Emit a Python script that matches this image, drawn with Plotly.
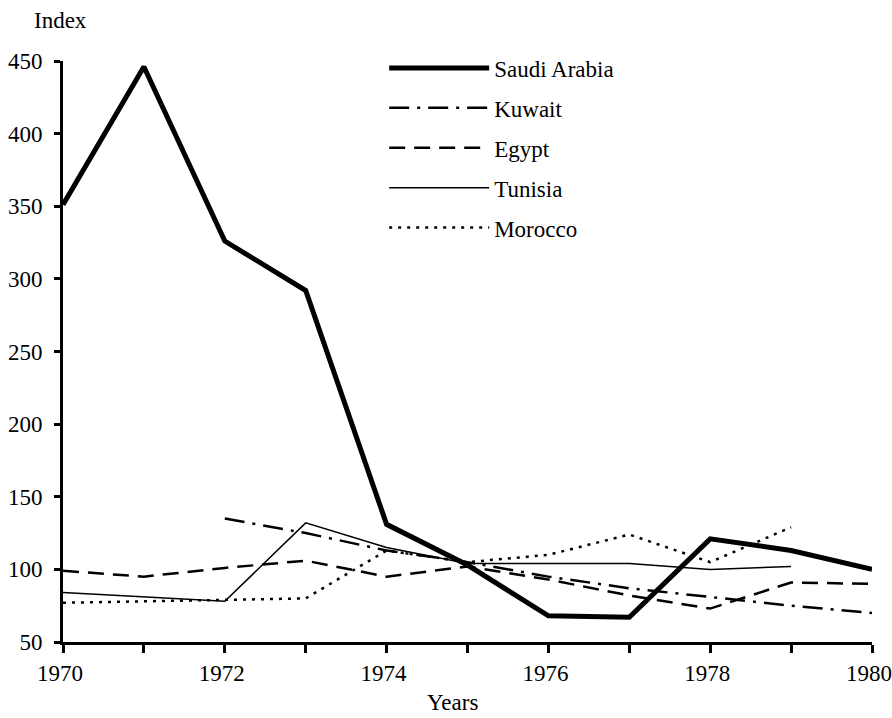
import plotly.graph_objects as go

years = list(range(1970, 1981))
saudi = [351, 446, 326, 292, 131, 103, 68, 67, 121, 113, 100]
kuwait_years = list(range(1972, 1981))
kuwait = [135, 125, 113, 105, 95, 87, 81, 75, 70]
egypt = [99, 95, 101, 106, 95, 102, 93, 82, 73, 91, 90]
tunisia_years = list(range(1970, 1980))
tunisia = [84, 81, 78, 132, 115, 104, 104, 104, 100, 102]
morocco_years = list(range(1970, 1980))
morocco = [77, 78, 79, 80, 113, 105, 110, 124, 105, 129]

x_tick_vals = years
x_tick_text = [str(y) if y % 2 == 0 else "" for y in years]
y_tick_vals = [50, 100, 150, 200, 250, 300, 350, 400, 450]

FONT = "Liberation Serif"
FS = 23

fig = go.Figure()
fig.add_trace(go.Scatter(x=years, y=saudi, mode="lines", name="Saudi Arabia",
                         line=dict(color="black", width=5), legendgroup="a"))
fig.add_trace(go.Scatter(x=kuwait_years, y=kuwait, mode="lines", name="Kuwait",
                         line=dict(color="black", width=2.5, dash="20px,8px,3px,8px"), legendgroup="b"))
fig.add_trace(go.Scatter(x=years, y=egypt, mode="lines", name="Egypt",
                         line=dict(color="black", width=2.5, dash="16px,9px"), legendgroup="c"))
fig.add_trace(go.Scatter(x=tunisia_years, y=tunisia, mode="lines", name="Tunisia",
                         line=dict(color="black", width=1.5), legendgroup="d"))
fig.add_trace(go.Scatter(x=morocco_years, y=morocco, mode="lines", name="Morocco",
                         line=dict(color="black", width=2.5, dash="3px,6px"), legendgroup="e"))

fig.update_layout(
    width=892, height=718,
    margin=dict(l=63, r=20, t=61, b=76),
    paper_bgcolor="white", plot_bgcolor="white",
    font=dict(family=FONT, size=FS, color="black"),
    showlegend=True,
    legend=dict(x=0.397, y=1.025, xanchor="left", yanchor="top",
                bgcolor="rgba(0,0,0,0)", tracegroupgap=7, itemwidth=100,
                font=dict(family=FONT, size=FS)),
    xaxis=dict(range=[1970, 1980], tickvals=x_tick_vals, ticktext=x_tick_text,
               showgrid=False, zeroline=False, showline=True, linecolor="black", linewidth=3,
               ticks="outside", ticklen=8, tickwidth=3, tickcolor="black",
               ticklabeloverflow="allow", ticklabelshift=-3, automargin=False),
    yaxis=dict(range=[50, 450], tickvals=y_tick_vals,
               showgrid=False, zeroline=False, showline=True, linecolor="black", linewidth=3,
               ticks="outside", ticklen=6, tickwidth=3, tickcolor="black",
               ticklabelstandoff=7, ticklabeloverflow="allow", automargin=False),
)
fig.add_annotation(text="Index", xref="paper", yref="paper", x=-0.038, y=1.045,
                   xanchor="left", yanchor="bottom", showarrow=False,
                   font=dict(family=FONT, size=FS))
fig.add_annotation(text="Years", xref="paper", yref="paper", x=0.481, y=-0.08,
                   xanchor="center", yanchor="top", showarrow=False,
                   font=dict(family=FONT, size=FS))

fig.write_html(
    "out.html",
    config={"displayModeBar": False},
    post_script="document.body.style.margin='0';document.body.style.overflow='hidden';",
)
